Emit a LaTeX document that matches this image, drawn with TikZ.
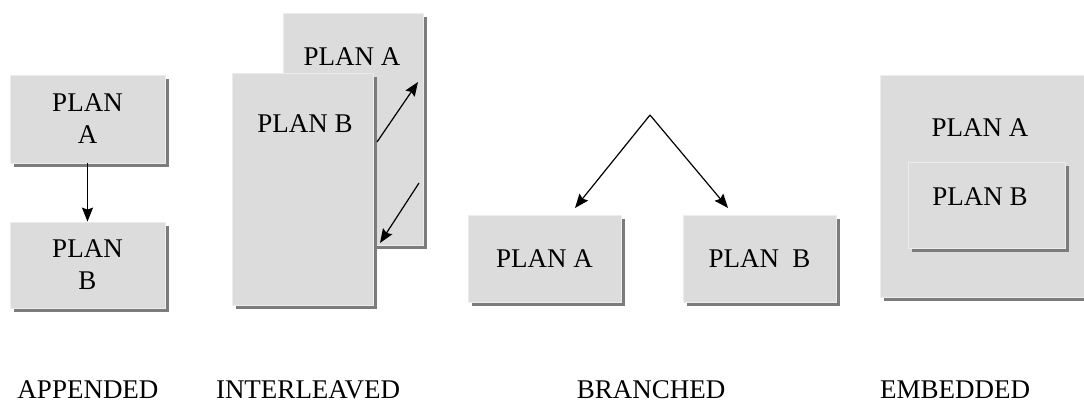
\documentclass[tikz,border=0pt]{standalone}
\usepackage{fontspec}
\setmainfont{Liberation Serif}
\usetikzlibrary{shadows,arrows.meta}
\definecolor{boxgray}{HTML}{DCDCDC}
\definecolor{boxedge}{HTML}{ECECEC}
\definecolor{shadegray}{HTML}{7C7C7C}

\begin{document}
\begin{tikzpicture}[x=1pt,y=-1pt,->,>={Stealth[length=14pt,width=11pt,inset=2pt]},line width=1.2pt,
    plan/.style={rectangle,fill=boxgray,draw=boxedge,line width=0.8pt,inner sep=0pt,
        drop shadow={shadow xshift=4pt,shadow yshift=-4pt,fill=shadegray,opacity=1}},
    txt/.style={font=\fontsize{27}{32}\selectfont,align=center,inner sep=0pt},
    caption/.style={font=\fontsize{27}{32}\selectfont,inner sep=0pt}]
    \useasboundingbox (0,0) rectangle (1084,405);

    % appended
    \node[plan,txt,minimum width=155pt,minimum height=88pt] (apA) at (87.5,119) {PLAN\\A};
    \node[plan,txt,minimum width=155pt,minimum height=86pt] (apB) at (87.5,265) {PLAN\\B};

    % interleaved
    \node[plan,minimum width=140pt,minimum height=232pt] (ilA) at (353,129) {};
    \node[plan,minimum width=141pt,minimum height=232pt] (ilB) at (302.5,189) {};
    \node[txt] (ilAt) at (352,57) {PLAN A};
    \node[txt] (ilBt) at (305,124) {PLAN B};
    \coordinate (up1) at (377,142);
    \coordinate (up2) at (418,82);
    \coordinate (dn1) at (419,183);
    \coordinate (dn2) at (380,243);

    % branched
    \coordinate (top) at (650,115);
    \coordinate (tipA) at (575,208);
    \coordinate (tipB) at (728,208);
    \node[plan,txt,minimum width=153pt,minimum height=87pt] (brA) at (544.5,258.5) {PLAN A};
    \node[plan,txt,minimum width=153pt,minimum height=87pt] (brB) at (759.5,258.5) {PLAN~~B};

    % embedded
    \node[plan,minimum width=210pt,minimum height=222pt] (emA) at (985,186) {};
    \node[plan,minimum width=157pt,minimum height=86pt] (emB) at (986.5,205) {};
    \node[txt] (emAt) at (980,128) {PLAN A};
    \node[txt] (emBt) at (980,197) {PLAN B};

    \path
        (apA) edge (apB)
        (up1) edge (up2)
        (dn1) edge (dn2)
        (top) edge (tipA)
        (top) edge (tipB)
        ;

    \node[caption] (capAp) at (88,390) {APPENDED};
    \node[caption] (capIl) at (308,390) {INTERLEAVED};
    \node[caption] (capBr) at (651,390) {BRANCHED};
    \node[caption] (capEm) at (955,390) {EMBEDDED};
\end{tikzpicture}
\end{document}
